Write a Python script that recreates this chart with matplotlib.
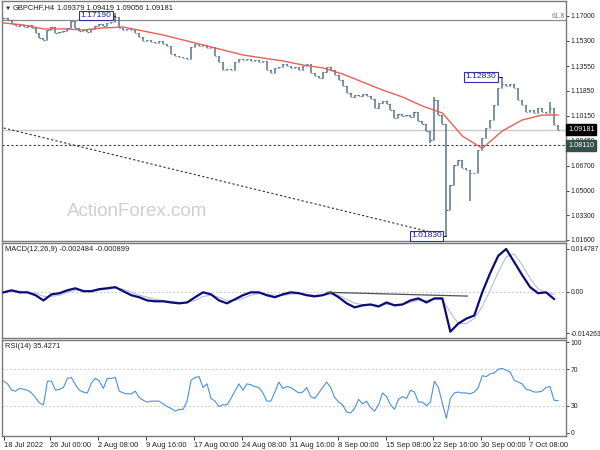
import numpy as np
import matplotlib
matplotlib.use('Agg')
import matplotlib.pyplot as plt

plt.rcParams['font.family'] = ['Liberation Sans', 'DejaVu Sans']

# closes, one bar per ~2.7 H4 bars
close = [
    1.1686, 1.1673, 1.1645, 1.1631, 1.1638, 1.1624, 1.1638, 1.1618, 1.1583, 1.1549,
    1.1535, 1.1604, 1.1624, 1.1583, 1.1590, 1.1597, 1.1618, 1.1666, 1.1618, 1.1597,
    1.1604, 1.1590, 1.1611, 1.1631, 1.1645, 1.1631, 1.1652, 1.1659, 1.1693, 1.1618,
    1.1604, 1.1611, 1.1604, 1.1583, 1.1556, 1.1528, 1.1535, 1.1521, 1.1514, 1.1528,
    1.1508, 1.1494, 1.1439, 1.1425, 1.1418, 1.1411, 1.1404, 1.1487, 1.1508, 1.1494,
    1.1501, 1.1480, 1.1487, 1.1425, 1.1384, 1.1329, 1.1336, 1.1329, 1.1384, 1.1404,
    1.1398, 1.1404, 1.1391, 1.1398, 1.1384, 1.1391, 1.1329, 1.1308, 1.1343, 1.1349,
    1.1370, 1.1356, 1.1343, 1.1349, 1.1329, 1.1356, 1.1370, 1.1308, 1.1288, 1.1274,
    1.1315, 1.1349, 1.1329, 1.1294, 1.1260, 1.1219, 1.1171, 1.1143, 1.1157, 1.1150,
    1.1164, 1.1150, 1.1129, 1.1068, 1.1102, 1.1116, 1.1095, 1.1054, 1.0999, 1.1026,
    1.1013, 1.1019, 1.1006, 1.1040, 1.0978, 1.0958, 1.0909, 1.0848, 1.1123, 1.1019,
    1.0958, 1.0366, 1.0538, 1.0676, 1.0710, 1.0655, 1.0641, 1.0621, 1.0621, 1.0779,
    1.0861, 1.0930, 1.0985, 1.1088, 1.1205, 1.1233, 1.1219, 1.1233, 1.1205, 1.1123,
    1.1088, 1.1040, 1.1054, 1.1033, 1.1068, 1.1040, 1.1033, 1.1068, 1.0951, 1.0918,
]
spike_high = {28: 1.1719, 108: 1.1145, 125: 1.1283, 137: 1.1110}
spike_low = {107: 1.0827, 111: 1.0183, 117: 1.0430}

# moving average, every 5th bar + last bar
ma = [
    1.1652, 1.1638, 1.1611, 1.1611, 1.1604, 1.1618, 1.1624, 1.1597, 1.1569, 1.1535,
    1.1501, 1.1466, 1.1432, 1.1411, 1.1391, 1.1363, 1.1343, 1.1301, 1.1246, 1.1191,
    1.1143, 1.1081, 1.1033, 1.0875, 1.0790, 1.0909, 1.0985, 1.1019, 1.1019,
]

# MACD(12,26,9), every 2nd bar
macd = [
    -0.0002, 0.0005, -0.0002, -0.0002, -0.0012, -0.0030, -0.0009, -0.0005, 0.0005, 0.0012,
    0.0002, 0.0002, 0.0009, 0.0012, 0.0016, 0.0002, -0.0012, -0.0019, -0.0030, -0.0033,
    -0.0033, -0.0037, -0.0040, -0.0037, -0.0019, -0.0002, -0.0009, -0.0030, -0.0040, -0.0026,
    -0.0012, -0.0002, -0.0002, -0.0012, -0.0019, -0.0009, -0.0002, -0.0005, -0.0012, -0.0016,
    -0.0012, -0.0002, -0.0019, -0.0040, -0.0054, -0.0047, -0.0044, -0.0051, -0.0037, -0.0047,
    -0.0044, -0.0030, -0.0023, -0.0037, -0.0023, -0.0023, -0.0138, -0.0110, -0.0093, -0.0082,
    -0.0002, 0.0065, 0.0124, 0.0148, 0.0103, 0.0058, 0.0016, -0.0005, -0.0002, -0.0025,
]
signal = [
    -0.0002, 0.0002, 0.0002, -0.0002, -0.0005, -0.0016, -0.0016, -0.0012, -0.0002, 0.0005,
    0.0005, 0.0002, 0.0005, 0.0009, 0.0012, 0.0009, -0.0002, -0.0012, -0.0019, -0.0026,
    -0.0030, -0.0033, -0.0037, -0.0037, -0.0030, -0.0016, -0.0012, -0.0019, -0.0030, -0.0030,
    -0.0023, -0.0012, -0.0005, -0.0009, -0.0012, -0.0012, -0.0009, -0.0005, -0.0009, -0.0012,
    -0.0012, -0.0009, -0.0012, -0.0026, -0.0040, -0.0044, -0.0044, -0.0047, -0.0044, -0.0044,
    -0.0044, -0.0037, -0.0030, -0.0030, -0.0026, -0.0026, -0.0072, -0.0110, -0.0110, -0.0093,
    -0.0051, 0.0005, 0.0068, 0.0121, 0.0131, 0.0093, 0.0047, 0.0009, -0.0002, -0.0009,
]

# RSI(14)
rsi = [
    57, 54, 47, 46, 49, 48, 47, 44, 39, 33,
    31, 57, 57, 47, 48, 50, 60, 61, 53, 47,
    45, 44, 55, 60, 57, 49, 60, 60, 61, 46,
    44, 43, 43, 46, 39, 36, 34, 35, 35, 35,
    32, 29, 27, 24, 26, 26, 35, 58, 61, 62,
    50, 54, 38, 35, 29, 31, 31, 38, 46, 54,
    47, 54, 53, 51, 50, 44, 35, 35, 45, 56,
    49, 51, 50, 47, 44, 45, 50, 40, 38, 44,
    50, 56, 50, 39, 34, 31, 23, 22, 27, 37,
    32, 35, 28, 24, 31, 44, 40, 31, 26, 37,
    40, 38, 47, 45, 34, 34, 30, 34, 57, 50,
    33, 16, 38, 44, 45, 44, 44, 43, 45, 50,
    63, 62, 65, 66, 70, 71, 69, 67, 58, 56,
    54, 48, 47, 45, 45, 46, 50, 51, 36, 35.4271,
]

price_ticks = [1.016, 1.033, 1.050, 1.067, 1.0845, 1.1015, 1.1185, 1.1355, 1.153, 1.170]
date_labels = ['18 Jul 2022', '26 Jul 00:00', '2 Aug 08:00', '9 Aug 16:00', '17 Aug 00:00',
               '24 Aug 08:00', '31 Aug 16:00', '8 Sep 00:00', '15 Sep 08:00',
               '22 Sep 16:00', '30 Sep 00:00', '7 Oct 08:00']

BAR = '#56758c'
FS = 5.4
YFS = 4.9
W, H = 600, 450


def px_rect(x0, y0, x1, y1):
    return [x0 / W, 1 - y1 / H, (x1 - x0) / W, (y1 - y0) / H]


fig = plt.figure(figsize=(6, 4.5), dpi=100, facecolor='white')
ax = fig.add_axes(px_rect(2, 1, 566, 241))
ax_macd = fig.add_axes(px_rect(2, 243, 566, 338), sharex=ax)
ax_rsi = fig.add_axes(px_rect(2, 340, 566, 436), sharex=ax)

for a in (ax, ax_macd, ax_rsi):
    for s in a.spines.values():
        s.set_color('#7a7a7a')
        s.set_linewidth(1.0)
    a.yaxis.tick_right()
    a.tick_params(axis='y', length=2.5, width=0.6, pad=1.0, labelsize=YFS, colors='#202020')
    a.tick_params(axis='x', bottom=False, labelbottom=False)

n = len(close)
x = np.arange(n)

# price bars
opens = [close[0]] + close[:-1]
hi = [max(o, c, spike_high.get(i, 0)) for i, (o, c) in enumerate(zip(opens, close))]
lo = [min(o, c, spike_low.get(i, 9)) for i, (o, c) in enumerate(zip(opens, close))]
ax.vlines(x, lo, hi, color=BAR, lw=1.1, zorder=3)
ax.hlines(opens, x - 0.3, x, color=BAR, lw=0.9, zorder=3)
ax.hlines(close, x, x + 0.3, color=BAR, lw=0.9, zorder=3)

ma_x = np.append(np.arange(0, n - 4, 5), n - 1)
ax.plot(ma_x, ma, color='#e8605a', lw=1.0, zorder=4)

ax.axhline(1.1673, color='#8c8c8c', lw=0.9, zorder=1)
ax.text(140.6, 1.1675, '61.8', ha='right', va='bottom', fontsize=YFS, color='#7a7a7a')
ax.axhline(1.09181, color='#c8c8c8', lw=1.0, zorder=1)
ax.axhline(1.0811, color='#404040', lw=0.8, ls=(0, (2, 2)), zorder=1)
ax.plot([0, 110], [1.0930, 1.0195], color='#303030', lw=0.8, ls=(0, (2, 2)), zorder=2)

fig.text(137 / W, 1 - 211 / H, 'ActionForex.com', fontsize=13.5, color='#cfcfcf',
         ha='center', va='center')

# high / low labels
box = dict(boxstyle='square,pad=0.15', fc='white', ec='#3030a0', lw=0.8)
for xi, yi, txt, xe in [(23.2, 1.1703, '1.17190', 28), (119.7, 1.1281, '1.12830', 125),
                        (106.0, 1.0188, '1.01830', 111)]:
    ax.plot([xi + 4, xe], [yi, yi], color='#303030', lw=0.8, zorder=5)
    ax.text(xi, yi, txt, ha='center', va='center', fontsize=6.1, color='#2020a0',
            bbox=box, zorder=6)

ax.set_ylim(1.0153, 1.1803)
ax.set_xlim(-0.4, 141)
ax.set_yticks(price_ticks)
ax.set_yticklabels(['%.5f' % v for v in price_ticks])

for val, txt, fc in [(1.09181, '1.09181', '#000000'), (1.0811, '1.08110', '#34504c')]:
    ax.text(141.5, val, txt, ha='left', va='center', fontsize=YFS + 0.3, color='white',
            bbox=dict(boxstyle='square,pad=0.25', fc=fc, ec=fc), clip_on=False, zorder=10)

# MACD
idx2 = np.arange(0, n, 2)[:len(macd)]
ax_macd.axhline(0, color='#c0c0c0', lw=0.8, ls=(0, (1.5, 2)))
ax_macd.plot(idx2, signal, color='#b8bcd8', lw=0.8, zorder=2)
ax_macd.plot(idx2, macd, color='#0c0c78', lw=1.6, zorder=3)
ax_macd.plot([81.25, 116.25], [-0.0002, -0.0015], color='#505050', lw=0.9, zorder=4)
ax_macd.set_ylim(-0.01599, 0.01686)
ax_macd.set_yticks([-0.014263, 0, 0.014787])
ax_macd.set_yticklabels(['-0.014263', '0.00', '0.014787'])
ax_macd.text(0.006, 0.965, 'MACD(12,26,9) -0.002484 -0.000899', transform=ax_macd.transAxes,
             fontsize=FS, color='#202020', va='top')

# RSI
for lvl in (30, 70):
    ax_rsi.axhline(lvl, color='#d0c8c4', lw=0.8, ls=(0, (1.5, 2)))
ax_rsi.plot(x, rsi, color='#4a90e2', lw=0.8)
ax_rsi.set_ylim(-3.3, 102.2)
ax_rsi.set_yticks([0, 30, 70, 100])
ax_rsi.set_yticklabels(['0', '30', '70', '100'])
ax_rsi.text(0.006, 0.965, 'RSI(14) 35.4271', transform=ax_rsi.transAxes,
            fontsize=FS, color='#202020', va='top')

date_pos = [0] + [11.75 + 12 * k for k in range(len(date_labels) - 1)]
ax_rsi.tick_params(axis='x', bottom=True, labelbottom=True, length=3, width=0.6,
                   pad=1.5, labelsize=FS, colors='#202020')
ax_rsi.set_xticks(date_pos)
ax_rsi.set_xticklabels(date_labels, ha='left')

# title line
fig.text(5 / W, 1 - 8 / H, '\u25bc', fontsize=4.5, color='#202020', va='center')
fig.text(13 / W, 1 - 8 / H, 'GBPCHF,H4', fontsize=FS, color='#202020', va='center')
fig.text(57 / W, 1 - 8 / H, '1.09379 1.09419 1.09056 1.09181', fontsize=FS,
         color='#202020', va='center')

fig.savefig('out.png', dpi=100, facecolor='white')
